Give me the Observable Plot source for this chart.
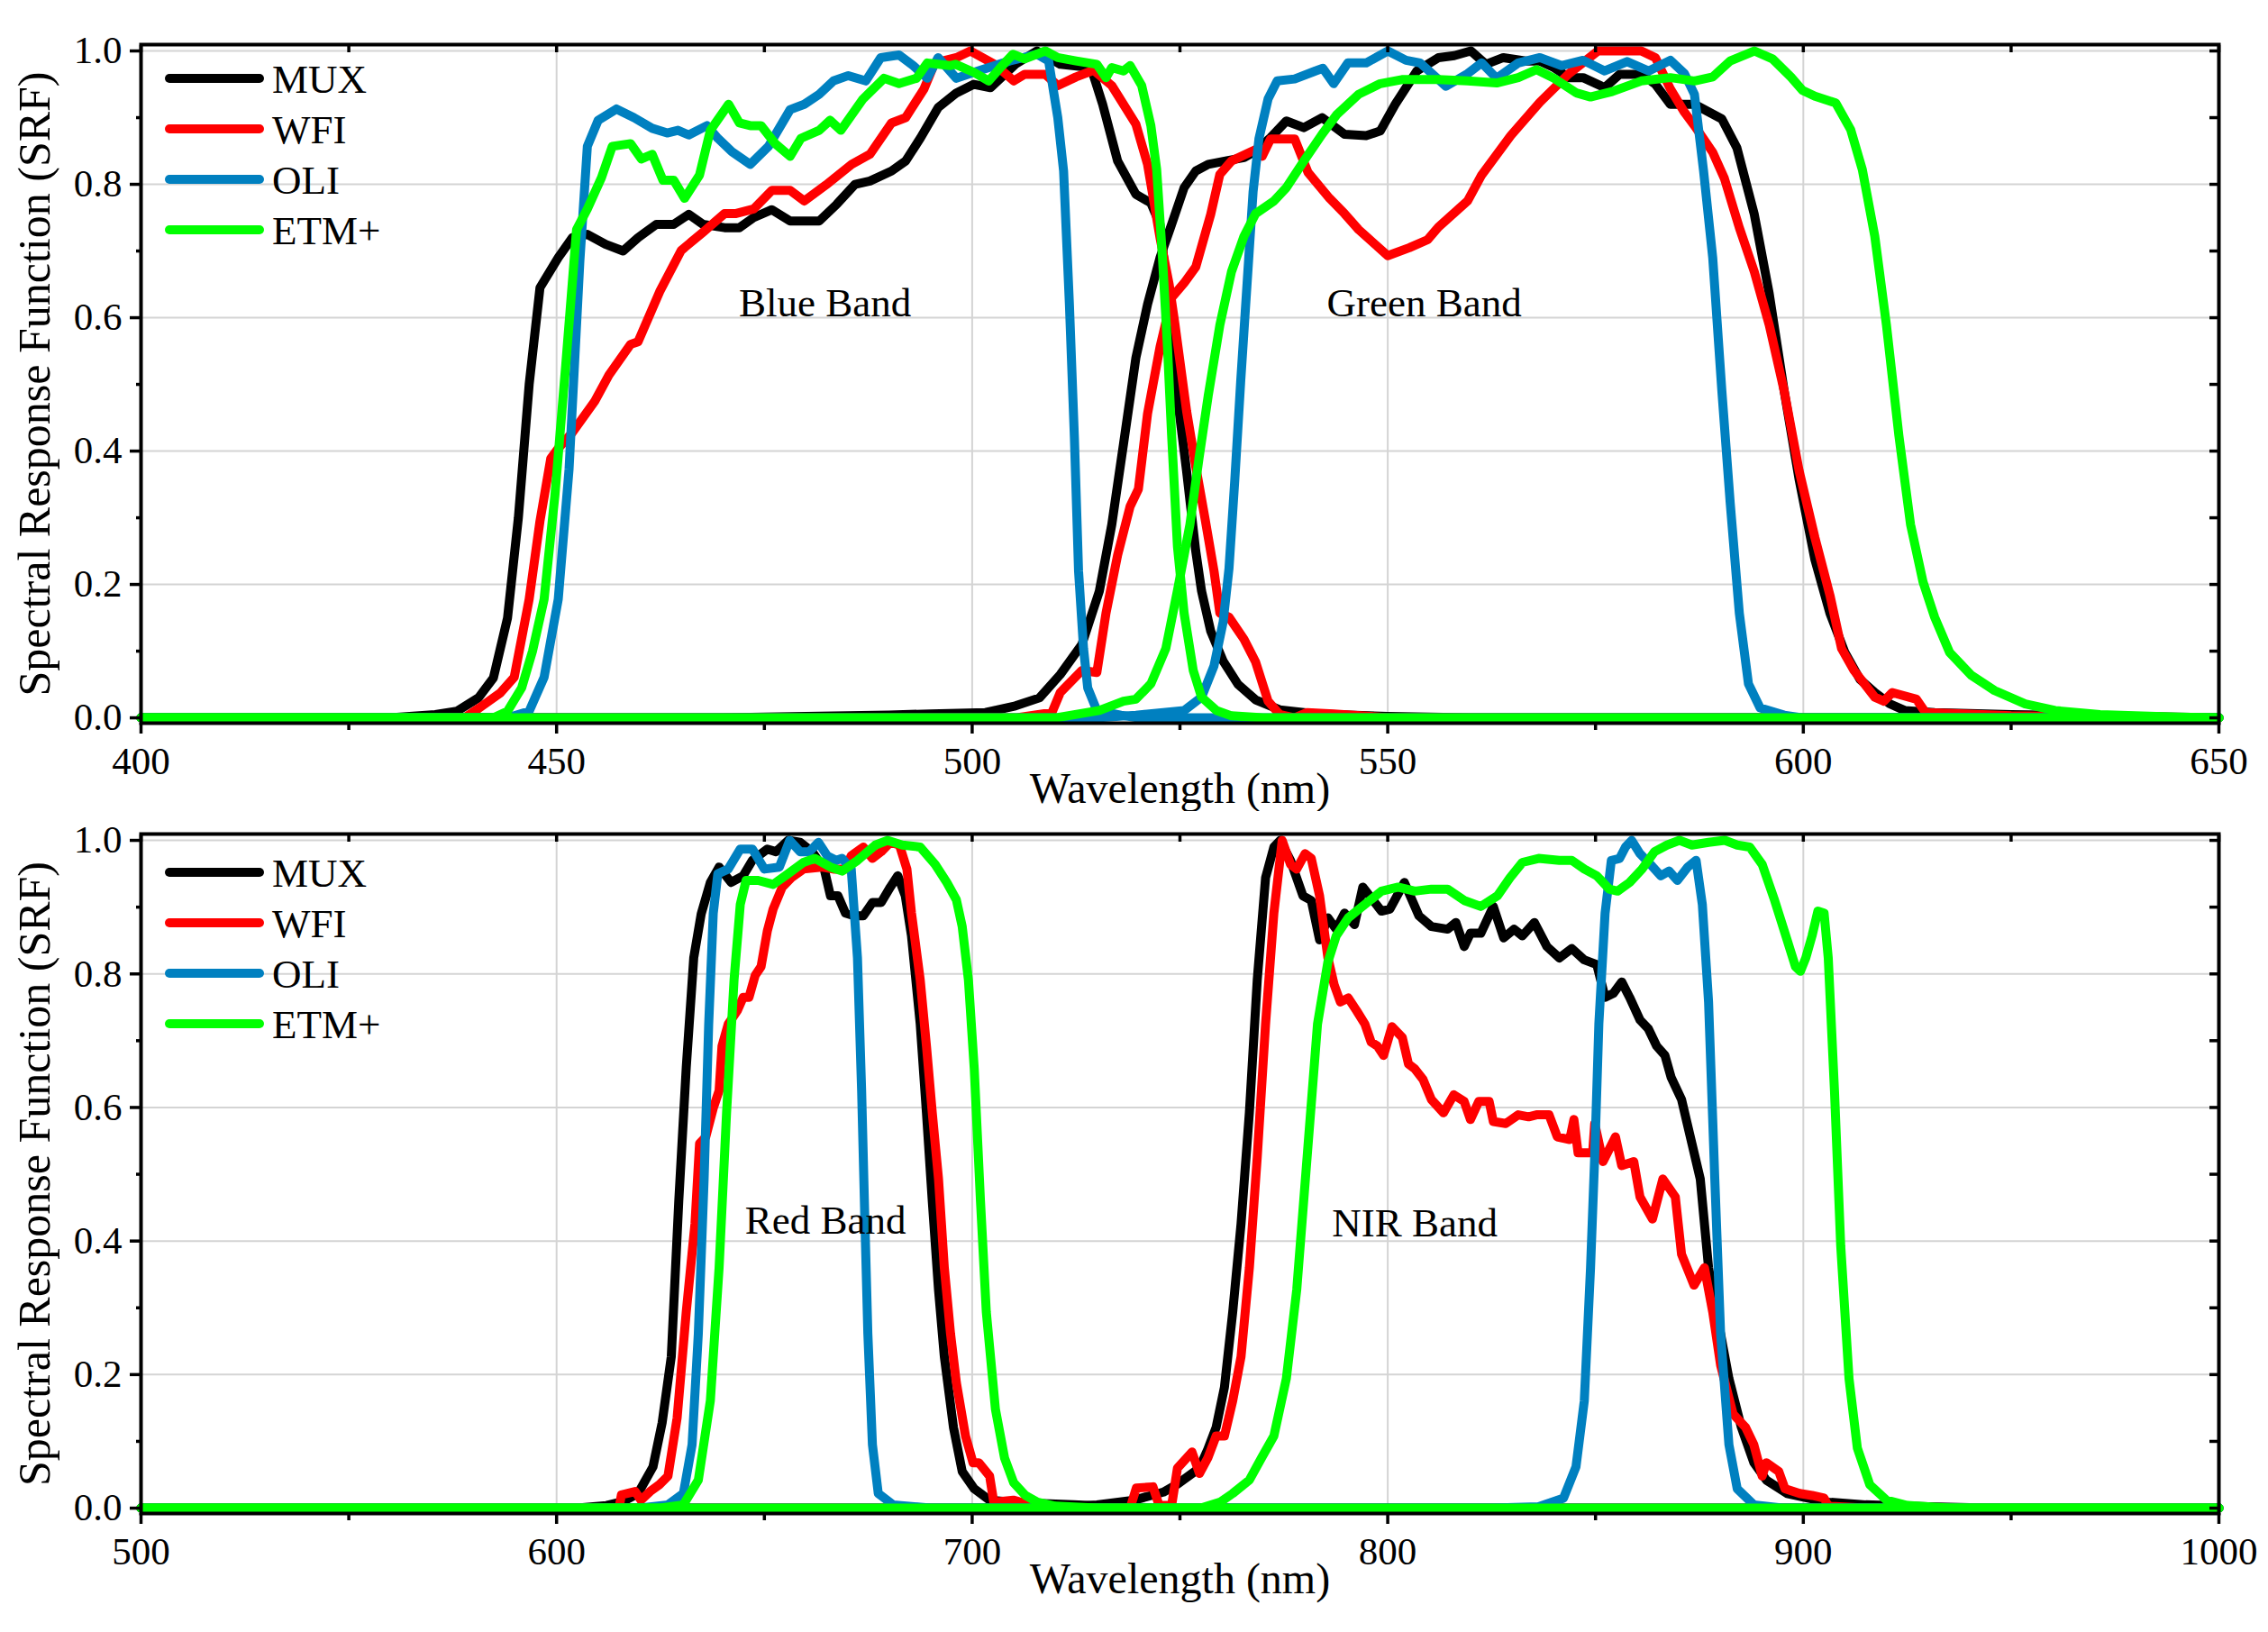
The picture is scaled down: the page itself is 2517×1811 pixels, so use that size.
<!DOCTYPE html>
<html>
<head>
<meta charset="utf-8">
<script src="https://cdn.jsdelivr.net/npm/d3@7"></script>
<script src="https://cdn.jsdelivr.net/npm/@observablehq/plot@0.6"></script>
<style>
  body { margin: 0; background: #fff; }
  #chart { width: 2517px; }
  #chart svg { display: block; }
  #chart svg text { font-family: 'Liberation Serif', 'Times New Roman', serif !important; font-variant: normal !important; }
</style>
</head>
<body>
<div id="chart"></div>
<script>
// instrumentos y colores
const instruments = ['MUX', 'WFI', 'OLI', 'ETM+']
const colors = ['#000000', '#ff0000', '#0080c0', '#00ff00']
const serif = "'Liberation Serif', 'Times New Roman', serif"

// panel superior: bandas azul y verde, [longitud de onda nm, SRF]
const muxBlue = [[400,0],[430,0],[435.4,0.005],[438,0.01],[440.6,0.03],[442.4,0.06],[444.1,0.15],[445.4,0.3],[446.7,0.5],[448,0.645],[450.2,0.69],[451.9,0.72],[453.7,0.725],[455.9,0.71],[458,0.7],[459.8,0.72],[462,0.74],[464.1,0.74],[465.9,0.755],[467.6,0.74],[470.2,0.735],[472,0.735],[473.7,0.75],[475.9,0.762],[478.1,0.745],[481.6,0.745],[483.7,0.77],[485.9,0.8],[487.7,0.805],[490.3,0.82],[492,0.835],[493.8,0.87],[495.9,0.915],[498.1,0.937],[500.2,0.95],[502.2,0.945],[505.2,0.98],[507.8,1.0],[510.6,0.98],[514.3,0.975],[515.7,0.92],[517.5,0.835],[519.7,0.785],[521.5,0.772],[522.6,0.74],[523.3,0.66],[524,0.56],[524.9,0.46],[525.8,0.37],[526.9,0.25],[527.6,0.19],[528.7,0.13],[530.2,0.085],[532,0.05],[534.1,0.027],[537,0.012],[541.4,0.006],[550,0.002],[560,0],[650,0]]
const muxGreen = [[400,0],[470,0],[480,0.002],[490,0.004],[495,0.006],[501.6,0.008],[505.2,0.018],[508.1,0.03],[510.6,0.065],[513.2,0.11],[515.3,0.19],[516.8,0.29],[518.2,0.41],[519.7,0.54],[521.1,0.62],[522.6,0.69],[524,0.74],[525.5,0.795],[526.9,0.82],[528.4,0.83],[530.5,0.835],[532.7,0.84],[534.1,0.85],[535.9,0.87],[537.8,0.895],[539.9,0.885],[542.1,0.9],[544.8,0.875],[547.4,0.873],[549.1,0.88],[550.9,0.92],[553.5,0.97],[556.1,0.99],[558,0.993],[560,1.0],[561.8,0.98],[563.9,0.99],[566.6,0.985],[568.3,0.985],[570,0.975],[571.8,0.96],[573.5,0.96],[576.1,0.945],[577.9,0.965],[580.5,0.965],[582.2,0.95],[584,0.92],[586.9,0.92],[590.2,0.898],[592,0.855],[594.1,0.755],[595.9,0.636],[597.7,0.49],[599.5,0.357],[601.4,0.237],[603.2,0.157],[605,0.098],[606.8,0.058],[608.6,0.038],[610.4,0.021],[612.2,0.011],[615.8,0.008],[625,0.005],[640,0.002],[650,0]]
const wfiBlue = [[400,0],[438.9,0],[440.6,0.014],[443.2,0.037],[444.9,0.061],[446.7,0.178],[448,0.295],[449.3,0.389],[450.2,0.404],[451.9,0.428],[454.6,0.475],[456.3,0.514],[458.9,0.56],[459.8,0.564],[462.4,0.639],[465,0.701],[467.6,0.728],[470.2,0.756],[471.5,0.756],[473.7,0.763],[475.9,0.791],[478.1,0.791],[479.8,0.775],[482.4,0.799],[485.5,0.83],[487.7,0.845],[490.3,0.892],[492,0.9],[494.2,0.943],[495.5,0.982],[498.1,0.99],[499.8,1.0],[502.7,0.98],[505,0.955],[506.3,0.965],[508.8,0.965],[510.3,0.948],[512.5,0.961],[514.6,0.971],[516.8,0.948],[519.7,0.89],[521.1,0.83],[522.6,0.72],[523.7,0.65],[524.4,0.59],[525.8,0.46],[526.9,0.377],[528,0.3],[529.1,0.22],[529.8,0.157],[530.9,0.151],[532.7,0.118],[534.1,0.084],[535.6,0.025],[537,0.005],[538.8,0],[540.3,0.008],[543.5,0.006],[548,0.002],[550,0],[650,0]]
const wfiGreen = [[400,0],[505.2,0],[509.6,0.008],[510.6,0.038],[513.2,0.071],[515,0.068],[516.1,0.157],[517.5,0.244],[519,0.317],[520,0.343],[521.1,0.456],[522.6,0.556],[524,0.63],[525.5,0.652],[526.9,0.676],[528.7,0.755],[529.8,0.815],[531.2,0.835],[534.1,0.852],[534.9,0.842],[535.9,0.868],[538.8,0.868],[540.4,0.818],[543,0.779],[544.8,0.756],[546.5,0.732],[550,0.693],[552.6,0.705],[554.8,0.717],[556.1,0.736],[559.6,0.775],[561.3,0.814],[564.8,0.873],[568.3,0.923],[571.8,0.966],[575.3,1.0],[580.5,1.0],[582.2,0.99],[584,0.943],[585.7,0.908],[586.9,0.888],[589.1,0.848],[590.5,0.809],[592.3,0.735],[594.1,0.669],[595.9,0.589],[597.7,0.49],[599.5,0.37],[601.4,0.27],[603.2,0.184],[604.6,0.104],[606.1,0.071],[608.6,0.031],[609.7,0.025],[610.7,0.038],[613.6,0.028],[614.7,0.008],[619.4,0.006],[625,0.003],[650,0]]
const oliBlue = [[400,0],[444.1,0],[446.7,0.01],[448.5,0.061],[450.2,0.178],[451.5,0.373],[452.8,0.685],[453.7,0.857],[455,0.896],[457.2,0.913],[459.3,0.9],[461.5,0.884],[463.3,0.877],[464.6,0.881],[465.9,0.874],[468.1,0.888],[469.4,0.869],[471.1,0.849],[473.3,0.83],[475.5,0.857],[478.1,0.912],[479.8,0.92],[481.6,0.935],[483.3,0.955],[485.1,0.963],[487.2,0.955],[489,0.99],[491.2,0.994],[492.9,0.978],[494.6,0.959],[495.9,0.99],[498.1,0.959],[500.2,0.968],[504.5,0.985],[507.8,0.995],[509.2,0.985],[510.3,0.9],[511,0.82],[511.7,0.62],[512.3,0.42],[512.8,0.22],[513.4,0.104],[513.9,0.045],[515,0.011],[517.9,0.004],[520,0],[650,0]]
const oliGreen = [[400,0],[515,0],[519.7,0.004],[525.5,0.011],[527.6,0.031],[529.1,0.078],[530.2,0.144],[530.9,0.224],[531.6,0.357],[532.3,0.503],[533.1,0.656],[533.8,0.789],[534.5,0.868],[535.6,0.928],[536.7,0.955],[538.8,0.958],[541.3,0.97],[542.2,0.974],[543.5,0.951],[545.2,0.982],[547.4,0.982],[550,1.0],[552.2,0.986],[553.9,0.982],[557,0.947],[559.6,0.966],[561.3,0.982],[563.1,0.959],[565.7,0.982],[568.3,0.99],[570.9,0.978],[573.5,0.986],[576.1,0.97],[578.8,0.984],[581.4,0.97],[584,0.986],[585.7,0.966],[586.9,0.935],[588,0.82],[589.1,0.69],[590.2,0.49],[591.2,0.323],[592.3,0.157],[593.4,0.051],[594.8,0.015],[597.7,0.004],[600,0],[650,0]]
const etmBlue = [[400,0],[442.4,0],[444.1,0.01],[445.8,0.045],[447.1,0.1],[448.5,0.178],[449.8,0.334],[451.1,0.529],[452.4,0.732],[453.7,0.763],[455.4,0.81],[456.7,0.857],[458.9,0.861],[460.2,0.838],[461.5,0.845],[462.8,0.806],[464.1,0.806],[465.4,0.779],[467.2,0.814],[468.5,0.881],[470.7,0.92],[472,0.892],[473.3,0.888],[474.6,0.888],[476.3,0.861],[478.1,0.842],[479.4,0.869],[481.6,0.881],[482.9,0.896],[484.2,0.881],[486.8,0.927],[489.4,0.959],[491.2,0.951],[493.3,0.959],[494.6,0.982],[497.3,0.978],[498,0.98],[500.2,0.968],[502,0.955],[503.4,0.975],[504.9,0.995],[506.3,0.988],[508.8,1.0],[510.3,0.99],[512.5,0.985],[515,0.98],[516.1,0.96],[516.8,0.975],[518.2,0.97],[519,0.978],[520.4,0.948],[521.5,0.888],[522.2,0.822],[522.9,0.689],[523.5,0.556],[524,0.423],[524.7,0.257],[525.5,0.157],[526.6,0.071],[527.6,0.031],[529.4,0.011],[531.2,0.003],[535,0],[650,0]]
const etmGreen = [[400,0],[510,0],[515.3,0.011],[518.2,0.025],[519.7,0.028],[521.5,0.051],[523.3,0.104],[524.7,0.191],[526.2,0.29],[527.3,0.39],[528.4,0.483],[529.8,0.589],[531.2,0.669],[532.7,0.722],[534.1,0.756],[536.3,0.775],[537.8,0.795],[539.9,0.835],[542.1,0.875],[543.9,0.905],[546.5,0.935],[549.1,0.951],[551.7,0.957],[556.1,0.957],[559.6,0.955],[563.1,0.952],[565.7,0.96],[567.9,0.972],[570,0.959],[572.7,0.937],[574.4,0.931],[577,0.939],[580.5,0.955],[584,0.96],[586.9,0.955],[589.1,0.961],[591.2,0.985],[594.1,1.0],[596.3,0.988],[598.5,0.961],[599.9,0.941],[601.4,0.932],[603.9,0.922],[605.7,0.882],[607.1,0.822],[608.6,0.722],[610,0.589],[611.5,0.423],[612.9,0.29],[614.4,0.204],[615.8,0.151],[617.6,0.098],[620.2,0.064],[623,0.041],[626.7,0.021],[630.3,0.011],[635.7,0.005],[645,0.001],[650,0]]

// panel inferior: bandas roja e infrarroja cercana
const muxRed = [[500,0],[605,0],[612,0.004],[616,0.01],[619.6,0.022],[623.2,0.062],[625.4,0.128],[627.6,0.227],[629.4,0.46],[631.2,0.66],[633,0.824],[634.8,0.89],[637,0.937],[639.1,0.96],[642,0.937],[644.9,0.947],[647.1,0.97],[650.7,0.987],[652.8,0.983],[655.7,1.0],[658.6,0.997],[661.5,0.983],[664.4,0.957],[665.9,0.917],[667.7,0.917],[669.5,0.891],[671.6,0.887],[673.8,0.887],[676,0.907],[678.1,0.907],[680.3,0.93],[682.1,0.947],[683.9,0.917],[685.4,0.857],[687.5,0.725],[689,0.592],[690.4,0.46],[691.9,0.327],[693.3,0.227],[695.5,0.121],[697.6,0.055],[700.5,0.029],[704.2,0.012],[709.9,0.009],[717.2,0.007],[724.4,0.005],[735,0.002],[745,0],[1000,0]]
const muxNir = [[500,0],[720,0],[730,0.005],[739,0.012],[746,0.024],[749.4,0.036],[754.7,0.06],[756.7,0.088],[758.7,0.121],[760.7,0.181],[762.7,0.294],[764.7,0.426],[766.7,0.592],[768.6,0.791],[770.6,0.944],[772.6,0.99],[774.1,1.0],[776.6,0.97],[779.6,0.917],[781.6,0.91],[783.6,0.851],[785.6,0.884],[787.6,0.867],[789.6,0.891],[792,0.874],[794,0.93],[796.5,0.91],[798.5,0.894],[800.5,0.897],[804,0.937],[807.5,0.887],[810.5,0.871],[814.4,0.867],[816.4,0.877],[818.4,0.841],[819.9,0.861],[822.4,0.861],[825.4,0.901],[827.9,0.854],[830.4,0.867],[832.4,0.857],[835.3,0.877],[838.3,0.841],[841.3,0.824],[844.3,0.838],[847.3,0.821],[850.3,0.814],[852.3,0.765],[854.3,0.771],[856.3,0.788],[858.2,0.765],[860.7,0.731],[862.7,0.718],[864.7,0.692],[866.7,0.678],[868.2,0.645],[870.7,0.612],[872.7,0.559],[875.2,0.493],[877.2,0.36],[879.1,0.294],[882.1,0.194],[885.1,0.121],[888.1,0.068],[891.1,0.042],[896.1,0.022],[901.1,0.015],[906,0.009],[915,0.005],[930,0.002],[945,0],[1000,0]]
const wfiRed = [[500,0],[615,0],[615.6,0.02],[618.9,0.025],[620.3,0.012],[622.5,0.025],[624.7,0.035],[626.8,0.048],[629,0.135],[631.2,0.294],[633.3,0.426],[634.4,0.546],[635.9,0.556],[637.7,0.599],[639.1,0.625],[639.8,0.692],[641.3,0.725],[643.5,0.745],[644.9,0.765],[646.3,0.765],[647.8,0.798],[649.2,0.811],[650.7,0.864],[652.1,0.897],[654.3,0.93],[656.5,0.944],[659.4,0.957],[663.7,0.96],[666.6,0.957],[669.5,0.957],[670.9,0.977],[673.8,0.99],[676,0.973],[678.1,0.983],[680.3,0.997],[682.5,0.993],[684.3,0.957],[685.4,0.891],[687.5,0.791],[689,0.692],[690.4,0.592],[691.9,0.493],[693.3,0.36],[694.8,0.261],[696.2,0.188],[698.4,0.108],[700.2,0.068],[701.6,0.068],[704.2,0.048],[705.2,0.009],[709.9,0.012],[715,0.003],[720,0],[1000,0]]
const wfiNir = [[500,0],[738,0],[739.5,0.03],[743.5,0.032],[745,0.004],[748,0.004],[749.4,0.06],[752.9,0.084],[754.7,0.052],[756.7,0.075],[758.7,0.108],[760.7,0.108],[762.7,0.161],[764.7,0.227],[766.7,0.36],[768.6,0.526],[770.6,0.725],[772.6,0.891],[774.6,1.0],[776.6,0.964],[778.1,0.957],[780.1,0.98],[781.6,0.973],[783.6,0.917],[785.6,0.824],[787.1,0.784],[788.6,0.758],[790.5,0.764],[792.5,0.745],[794.5,0.725],[796,0.698],[797.5,0.692],[799,0.678],[801,0.721],[803.5,0.705],[805,0.665],[806.5,0.658],[808.5,0.642],[810.5,0.612],[813.4,0.592],[815.9,0.619],[818.4,0.609],[819.9,0.582],[821.9,0.609],[824.4,0.609],[825.4,0.579],[828.4,0.576],[831.4,0.589],[833.9,0.586],[835.8,0.589],[838.8,0.589],[840.8,0.556],[843.8,0.552],[844.8,0.582],[845.8,0.532],[849.3,0.532],[849.8,0.576],[851.8,0.519],[854.8,0.556],[856.3,0.513],[859.2,0.519],[860.7,0.466],[863.7,0.433],[866.2,0.493],[869.2,0.466],[870.7,0.38],[873.7,0.334],[876.2,0.36],[878.2,0.294],[880.1,0.214],[883.1,0.141],[886.1,0.121],[888.1,0.095],[890.1,0.048],[891.1,0.068],[894.1,0.055],[895.6,0.029],[899.1,0.022],[902.1,0.019],[905,0.015],[906,0.003],[915,0],[1000,0]]
const oliRed = [[500,0],[620,0],[626.8,0.005],[630.5,0.022],[632.6,0.095],[634.1,0.261],[635.5,0.493],[636.6,0.725],[637.7,0.891],[638.8,0.95],[641.3,0.957],[644.2,0.987],[647.1,0.987],[650,0.957],[653.6,0.96],[656.1,1.0],[658.6,0.983],[660.8,0.983],[663,0.997],[665.1,0.977],[667.3,0.97],[668.7,0.973],[670.9,0.957],[672.4,0.824],[673.4,0.625],[674.2,0.426],[674.9,0.261],[676,0.095],[677.4,0.022],[681,0.005],[690,0],[1000,0]]
const oliNir = [[500,0],[825,0],[836.3,0.002],[842.3,0.015],[845.3,0.062],[847.3,0.161],[848.8,0.36],[849.8,0.526],[850.8,0.725],[852.3,0.891],[853.8,0.97],[855.8,0.973],[857.2,0.99],[858.7,1.0],[860.7,0.98],[863.2,0.964],[865.7,0.947],[867.7,0.954],[869.7,0.94],[872.2,0.96],[874.2,0.97],[875.7,0.904],[877.2,0.758],[878.7,0.493],[880.1,0.261],[882.1,0.095],[884.1,0.029],[888.1,0.005],[895,0],[1000,0]]
const etmRed = [[500,0],[625,0],[630.5,0.005],[634.1,0.042],[637,0.161],[639.1,0.36],[640.9,0.592],[642.7,0.791],[644.2,0.904],[645.6,0.94],[648.5,0.94],[652.1,0.934],[655.7,0.95],[659.4,0.967],[662.2,0.973],[665.9,0.96],[668.7,0.954],[672.4,0.97],[676.7,0.993],[679.6,1.0],[683.2,0.993],[687.5,0.99],[691.1,0.964],[693.9,0.937],[696.2,0.911],[697.6,0.871],[699.1,0.791],[700.5,0.658],[702,0.46],[703.4,0.294],[705.6,0.148],[707.8,0.075],[710,0.038],[712.8,0.019],[715.7,0.009],[720,0.003],[730,0],[1000,0]]
const etmNir = [[500,0],[755,0],[759.7,0.009],[762.7,0.022],[766.7,0.042],[769.6,0.075],[772.6,0.108],[775.6,0.194],[778.1,0.327],[780.6,0.526],[783.1,0.725],[785.6,0.818],[787.6,0.857],[790.5,0.884],[794.5,0.904],[798.5,0.924],[802.5,0.93],[806.5,0.924],[810.5,0.927],[814.4,0.927],[818.4,0.91],[822.4,0.901],[826.4,0.917],[829.4,0.944],[832.4,0.967],[836.3,0.973],[841.3,0.97],[844.3,0.97],[847.3,0.957],[850.3,0.947],[853.3,0.927],[855.3,0.924],[858.2,0.937],[861.2,0.957],[864.2,0.983],[867.2,0.993],[870.2,1.0],[873.2,0.993],[877.2,0.997],[881.1,1.0],[884.1,0.993],[887.1,0.99],[890.1,0.964],[893.1,0.91],[896.1,0.851],[898.1,0.811],[899.3,0.804],[900.6,0.824],[902.1,0.857],[903.5,0.894],[905,0.891],[906,0.824],[907.5,0.625],[909,0.393],[911,0.194],[913,0.09],[916,0.035],[920,0.012],[925,0.004],[935,0],[1000,0]]

// etiquetas de banda
const topLabels = [{name: 'Blue Band', wl: 482.3, srf: 0.622}, {name: 'Green Band', wl: 554.4, srf: 0.622}]
const bottomLabels = [{name: 'Red Band', wl: 664.7, srf: 0.43}, {name: 'NIR Band', wl: 806.5, srf: 0.427}]

// ticks
const yMajor = [0, 0.2, 0.4, 0.6, 0.8, 1.0]
const yMinor = [0.1, 0.3, 0.5, 0.7, 0.9]

function toRows(series) {
  return series.flatMap(([inst, band, pairs]) => pairs.map(([wl, srf]) => ({inst, band, wl, srf})))
}

// leyenda dibujada dentro del svg
function legend(offsetY) {
  return (index, scales, values, dims) => {
    const g = d3.create('svg:g')
      .style('font-size', '45px')
      .attr('text-anchor', 'start')
    instruments.forEach((inst, i) => {
      const y = dims.marginTop + offsetY + i * 56
      g.append('line')
        .attr('x1', dims.marginLeft + 32).attr('x2', dims.marginLeft + 132)
        .attr('y1', y).attr('y2', y)
        .attr('stroke', colors[i]).attr('stroke-width', 10).attr('stroke-linecap', 'round')
      g.append('text')
        .attr('x', dims.marginLeft + 146).attr('y', y).attr('dy', '0.36em')
        .attr('text-anchor', 'start')
        .attr('fill', 'black').text(inst)
    })
    return g.node()
  }
}

function panel({data, labels, domain, step, height, marginTop, marginBottom, legendY}) {
  const xMajor = d3.range(domain[0], domain[1] + 1, step)
  const xMinor = d3.range(domain[0] + step / 2, domain[1], step)
  const xAll = d3.range(domain[0], domain[1] + 1, step / 2)
  const yAll = d3.range(0, 11).map(i => i / 10)
  const grid = {stroke: '#d4d4d4', strokeOpacity: 1, strokeWidth: 2}
  const ticks = {strokeWidth: 3.5}
  return Plot.plot({
    width: 2517,
    height,
    marginLeft: 156,
    marginRight: 55,
    marginTop,
    marginBottom,
    style: {fontFamily: serif, background: 'white', color: 'black'},
    x: {domain},
    y: {domain: [-0.008, 1.0095]},
    marks: [
      Plot.gridX(xMajor.slice(1, -1), grid),
      Plot.gridY(yMajor.slice(1), grid),
      ...instruments.map((inst, i) => Plot.line(data.filter(d => d.inst === inst), {
        x: 'wl', y: 'srf', z: 'band', stroke: colors[i], strokeWidth: 10, strokeLinejoin: 'round'
      })),
      Plot.text(labels, {x: 'wl', y: 'srf', text: 'name', fontSize: 45, fill: 'black'}),
      // ejes estilo Origin
      Plot.axisX(xMajor, {...ticks, anchor: 'bottom', tickSize: 12, tickPadding: 14, fontSize: 43, label: null, tickFormat: d => String(d)}),
      Plot.axisX(xMinor, {...ticks, anchor: 'bottom', tickSize: 8, fill: 'none'}),
      Plot.axisX(xAll, {...ticks, anchor: 'top', tickSize: -8, fill: 'none'}),
      Plot.axisY(yMajor, {...ticks, anchor: 'left', tickSize: 12, tickPadding: 9, fontSize: 43, label: null, tickFormat: d => d.toFixed(1)}),
      Plot.axisY(yMinor, {...ticks, anchor: 'left', tickSize: 5, fill: 'none'}),
      Plot.axisY(yAll, {...ticks, anchor: 'right', tickSize: -11, fill: 'none'}),
      Plot.frame({stroke: 'black', strokeWidth: 4}),
      Plot.text(['Wavelength (nm)'], {frameAnchor: 'bottom', dy: 88, text: d => d, fontSize: 48, fill: 'black'}),
      Plot.text(['Spectral Response Function (SRF)'], {frameAnchor: 'left', dx: -118, rotate: -90, textAnchor: 'middle', text: d => d, fontSize: 50, fill: 'black'}),
      legend(legendY)
    ]
  })
}

const topChart = panel({
  data: toRows([
    ['MUX', 'blue', muxBlue], ['MUX', 'green', muxGreen],
    ['WFI', 'blue', wfiBlue], ['WFI', 'green', wfiGreen],
    ['OLI', 'blue', oliBlue], ['OLI', 'green', oliGreen],
    ['ETM+', 'blue', etmBlue], ['ETM+', 'green', etmGreen]
  ]),
  labels: topLabels,
  domain: [400, 650],
  step: 50,
  height: 900,
  marginTop: 49,
  marginBottom: 98,
  legendY: 38
})

const bottomChart = panel({
  data: toRows([
    ['MUX', 'red', muxRed], ['MUX', 'nir', muxNir],
    ['WFI', 'red', wfiRed], ['WFI', 'nir', wfiNir],
    ['OLI', 'red', oliRed], ['OLI', 'nir', oliNir],
    ['ETM+', 'red', etmRed], ['ETM+', 'nir', etmNir]
  ]),
  labels: bottomLabels,
  domain: [500, 1000],
  step: 100,
  height: 911,
  marginTop: 25,
  marginBottom: 132,
  legendY: 43
})

d3.select('#chart').append(() => topChart)
d3.select('#chart').append(() => bottomChart)
</script>
</body>
</html>
